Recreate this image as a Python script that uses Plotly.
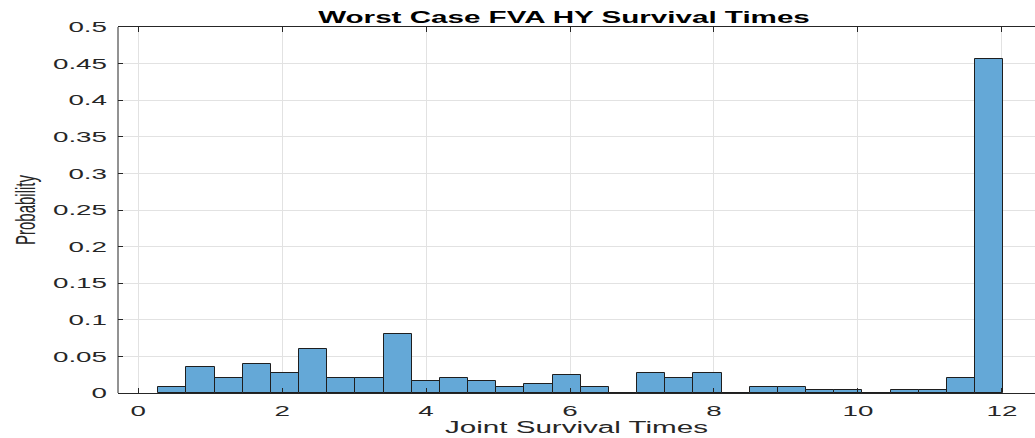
import numpy as np
import plotly.graph_objects as go

# Histogram of joint survival times: 30 equal-width bins, normalised to probability
bin_start = 0.28
bin_width = 0.3913
probabilities = [
    0.008, 0.036, 0.020, 0.040, 0.028, 0.060, 0.020, 0.020, 0.080, 0.016,
    0.020, 0.016, 0.008, 0.012, 0.024, 0.008, 0.000, 0.028, 0.020, 0.028,
    0.000, 0.008, 0.008, 0.004, 0.004, 0.000, 0.004, 0.004, 0.020, 0.456,
]
x_ticks = [0, 2, 4, 6, 8, 10, 12]
y_ticks = [0, 0.05, 0.1, 0.15, 0.2, 0.25, 0.3, 0.35, 0.4, 0.45, 0.5]
y_tick_labels = ["0", "0.05", "0.1", "0.15", "0.2", "0.25", "0.3", "0.35", "0.4", "0.45", "0.5"]

edges = bin_start + bin_width * np.arange(len(probabilities) + 1)
centers = (edges[:-1] + edges[1:]) / 2

axis_color = "rgb(38,38,38)"
grid_color = "rgb(226,226,226)"
font_family = "Liberation Sans, Arial, sans-serif"

fig = go.Figure(
    go.Bar(
        x=centers,
        y=probabilities,
        width=bin_width,
        marker=dict(color="rgb(100,168,215)", line=dict(color="rgb(30,30,30)", width=1)),
        hoverinfo="x+y",
    )
)

fig.update_layout(
    width=1035,
    height=438,
    margin=dict(l=118, r=0, t=27, b=45, autoexpand=False),
    paper_bgcolor="white",
    plot_bgcolor="white",
    showlegend=False,
    bargap=0,
    title=dict(
        text="<b>Worst Case FVA HY Survival Times</b>",
        x=564 / 1035,
        xanchor="center",
        y=1 - 17 / 438,
        yanchor="middle",
        font=dict(family=font_family, size=16, color="black"),
    ),
    # left spine of the axes box
    shapes=[
        dict(type="line", xref="paper", yref="paper", x0=0, x1=0, y0=0, y1=1,
             line=dict(color=axis_color, width=1), layer="above"),
    ],
)

fig.update_xaxes(
    range=[-0.28, 12.46],
    tickvals=x_ticks,
    ticks="inside",
    ticklen=5,
    tickcolor=axis_color,
    showline=True,
    linecolor=axis_color,
    linewidth=1,
    mirror="ticks",
    showgrid=True,
    gridcolor=grid_color,
    zeroline=False,
    tickfont=dict(family=font_family, size=15, color=axis_color),
    ticklabelstandoff=4,
    title=dict(
        text="Joint Survival Times",
        font=dict(family=font_family, size=16, color=axis_color),
        standoff=3,
    ),
)

fig.update_yaxes(
    range=[0, 0.5],
    tickvals=y_ticks,
    ticktext=y_tick_labels,
    ticks="inside",
    ticklen=5,
    tickcolor=axis_color,
    showline=False,
    showgrid=True,
    gridcolor=grid_color,
    zeroline=False,
    tickfont=dict(family=font_family, size=15, color=axis_color),
    ticklabelstandoff=10,
    title=dict(
        text="Probability",
        font=dict(family=font_family, size=15, color=axis_color),
        standoff=38,
    ),
)

# Widen every text label horizontally about its anchor point
stretch_js = """
var gd = document.getElementById('{plot_id}');
var sx = 1.85;
gd.querySelectorAll('.main-svg text').forEach(function(t) {
  var x = parseFloat(t.getAttribute('x')) || 0;
  var y = parseFloat(t.getAttribute('y')) || 0;
  var tr = t.getAttribute('transform') || '';
  var s = tr.indexOf('rotate') >= 0 ? 'scale(1,' + sx + ')' : 'scale(' + sx + ',1)';
  t.setAttribute('transform', tr + ' translate(' + x + ',' + y + ') ' + s +
                 ' translate(' + (-x) + ',' + (-y) + ')');
});
"""

fig.write_html("out.html", post_script=stretch_js)
